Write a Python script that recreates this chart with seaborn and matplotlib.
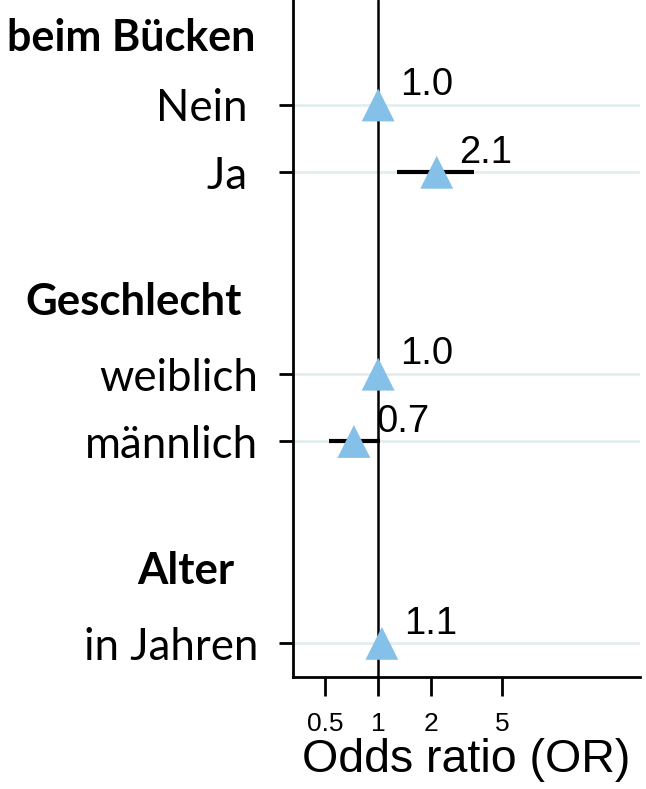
import numpy as np
import pandas as pd
import matplotlib
matplotlib.use("Agg")
import matplotlib.pyplot as plt
import matplotlib.transforms as mtransforms
import seaborn as sns

# ---- data ----
labels = ["Nein ", "Ja ", "weiblich", "männlich", "in Jahren"]
positions = [0, 1, 4, 5, 8]
odds_ratio = [1.0, 2.14, 1.0, 0.73, 1.05]
ci_low = [np.nan, 1.28, np.nan, 0.53, np.nan]
ci_high = [np.nan, 3.48, np.nan, 1.03, np.nan]
value_text = ["1.0", "2.1", "1.0", "0.7", "1.1"]
headers = ["beim Bücken", "Geschlecht", "Alter"]
header_pos = [-1, 2.93, 6.93]
x_ticks = [0.5, 1, 2, 5]
x_ticklabels = ["0.5", "1", "2", "5"]

df = pd.DataFrame({"label": labels, "pos": positions, "OR": odds_ratio,
                   "lo": ci_low, "hi": ci_high, "txt": value_text})

sns.set_theme(style="white")
plt.rcParams["font.family"] = ["Liberation Sans", "DejaVu Sans"]
plt.rcParams["text.color"] = "black"
plt.rcParams["axes.labelcolor"] = "black"
plt.rcParams["xtick.color"] = "black"
plt.rcParams["ytick.color"] = "black"

fig = plt.figure(figsize=(6.46, 7.89), dpi=100)
ax = fig.add_axes([293 / 646, 1 - 677 / 789, (640 - 293) / 646, 677 / 789])

# grid lines
for p in df["pos"]:
    ax.axhline(p, color="#E4EEEE", lw=2, zorder=0)
# reference line
ax.axvline(1, color="black", lw=1.8, zorder=1)

# CIs
ci = df.dropna(subset=["lo"])
ax.hlines(ci["pos"], ci["lo"], ci["hi"], color="black", lw=3, zorder=2)

sns.scatterplot(data=df, x="OR", y="pos", marker="^", s=560, color="#85C0E8",
                edgecolor="none", linewidth=0, zorder=3, ax=ax, legend=False)

for _, r in df.iterrows():
    ax.annotate(r["txt"], (r["OR"], r["pos"]), xytext=(16, 7),
                textcoords="offset points", ha="left", va="baseline",
                fontsize=27.5, color="black")

ax.set_xscale("log")
ax.set_xlim(0.331, 30)
ax.set_ylim(8.5, -1.56)
ax.set_xticks(x_ticks)
ax.set_xticklabels(x_ticklabels, fontsize=19)
ax.xaxis.set_minor_locator(matplotlib.ticker.NullLocator())
ax.set_yticks(df["pos"])
ax.set_yticklabels(df["label"], fontsize=31.5, family=["Lato", "DejaVu Sans"])
ax.tick_params(axis="y", length=10, width=2, color="black", pad=15, left=True)
ax.tick_params(axis="x", length=14, width=2, color="black", pad=11, bottom=True)
ax.set_xlabel("Odds ratio (OR)", fontsize=33.5, labelpad=2)
ax.set_ylabel("")

for s in ["top", "right"]:
    ax.spines[s].set_visible(False)
for s in ["left", "bottom"]:
    ax.spines[s].set_color("black")
    ax.spines[s].set_linewidth(2)

trans = mtransforms.blended_transform_factory(fig.transFigure, ax.transData)
header_x = [255 / 646, 242 / 646, 234 / 646]
header_size = [31, 31.5, 31.5]
for h, y, x, fs in zip(headers, header_pos, header_x, header_size):
    fig.text(x, y, h, transform=trans, ha="right", va="center",
             fontsize=fs, fontweight="bold", family=["Lato", "DejaVu Sans"])

fig.savefig("out.png", dpi=100)
